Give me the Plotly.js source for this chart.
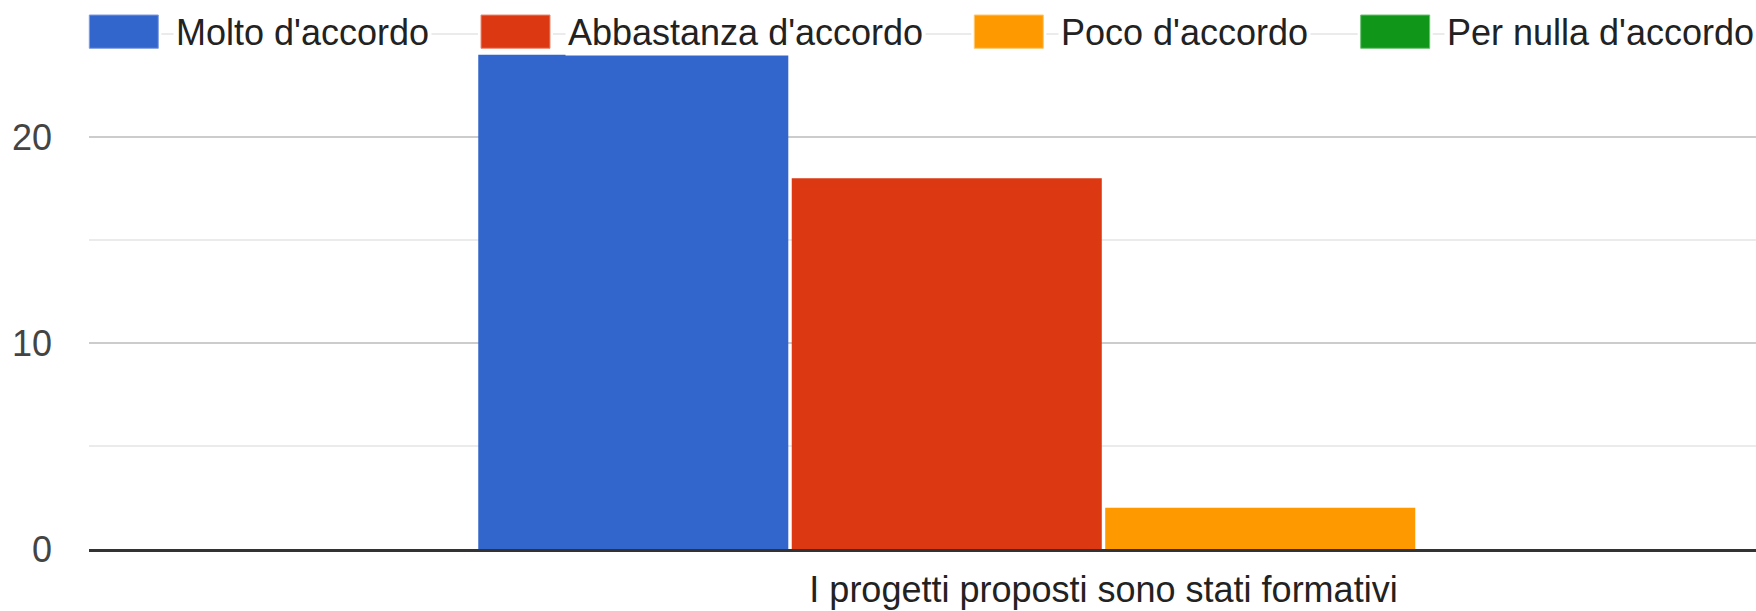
<!DOCTYPE html>
<html>
<head>
<meta charset="utf-8">
<script src="https://cdn.plot.ly/plotly-3.0.1.min.js"></script>
<style>
  html, body { margin: 0; padding: 0; background: #ffffff; }
  #chart { width: 1756px; height: 611px; }
</style>
</head>
<body>
<div id="chart"></div>
<script>
// ---- Data ----
const categories = ['I progetti proposti sono stati formativi'];
const seriesNames = ["Molto d'accordo", "Abbastanza d'accordo", "Poco d'accordo", "Per nulla d'accordo"];
const moltoValues = [24];
const abbastanzaValues = [18];
const pocoValues = [2];
const perNullaValues = [0];
const yTickValues = [0, 10, 20];
const yTickLabels = ['0', '10', '20'];

// ---- Style ----
const seriesColors = ['#3366cc', '#dc3912', '#ff9900', '#109618'];
const seriesEdge = ['#7f9de0', '#ec8a72', '#ffc76b', '#6cc270'];
const FONT = '"Liberation Sans", Arial, sans-serif';
const FS = 36;
const W = 1756, H = 611;
const M = { l: 89, r: 0, t: 33, b: 62 };
const plotW = W - M.l - M.r, plotH = H - M.t - M.b;
const legendSwatchX = [89.3, 481, 974.3, 1360.7];
const swatchW = 69, swatchTop = 15, swatchBottom = 48.3, textOffset = 86.7, legendMidY = 32;

const px2x = p => (p - M.l) / plotW;
const px2y = p => (H - M.b - p) / plotH;

const allValues = [moltoValues, abbastanzaValues, pocoValues, perNullaValues];
const traces = seriesNames.map((name, i) => ({
  type: 'bar',
  name: name,
  x: categories,
  y: allValues[i],
  marker: { color: seriesColors[i], line: { width: 0 } },
  hoverinfo: 'x+y+name'
}));

const shapes = [];
const annotations = [];
seriesNames.forEach((name, i) => {
  const x0 = legendSwatchX[i];
  // white halo behind swatch (breaks the top gridline)
  shapes.push({
    type: 'rect', xref: 'paper', yref: 'paper', layer: 'above',
    x0: px2x(x0 - 3), x1: px2x(x0 + swatchW + 3),
    y0: px2y(swatchBottom + 3), y1: px2y(swatchTop - 3),
    fillcolor: '#ffffff', line: { width: 0 }
  });
  shapes.push({
    type: 'rect', xref: 'paper', yref: 'paper', layer: 'above',
    x0: px2x(x0), x1: px2x(x0 + swatchW),
    y0: px2y(swatchBottom), y1: px2y(swatchTop),
    fillcolor: seriesColors[i], line: { color: seriesEdge[i], width: 1 }
  });
  annotations.push({
    xref: 'paper', yref: 'paper',
    x: px2x(x0 + textOffset - 3), y: px2y(legendMidY),
    xanchor: 'left', yanchor: 'middle',
    text: name, showarrow: false,
    bgcolor: '#ffffff', borderpad: 2,
    font: { family: FONT, size: FS, color: '#222222' }
  });
});

const unitPx = 2029;
const xMin = -0.5;
const xMax = xMin + plotW / unitPx;

const layout = {
  width: W, height: H,
  margin: M,
  paper_bgcolor: '#ffffff',
  plot_bgcolor: '#ffffff',
  showlegend: false,
  barmode: 'group',
  bargap: 0.382,
  bargroupgap: 0.011,
  font: { family: FONT, size: FS, color: '#222222' },
  xaxis: {
    type: 'category',
    range: [xMin, xMax],
    showgrid: false,
    zeroline: false,
    showline: true,
    linecolor: '#333333',
    linewidth: 3,
    ticks: '',
    ticklabelstandoff: 7,
    tickfont: { family: FONT, size: FS, color: '#222222' },
    fixedrange: true
  },
  yaxis: {
    range: [0, 25.05],
    tickmode: 'array',
    tickvals: yTickValues,
    ticktext: yTickLabels,
    showgrid: true,
    gridcolor: '#cccccc',
    gridwidth: 2,
    minor: { dtick: 5, showgrid: true, gridcolor: '#ebebeb', gridwidth: 2, ticks: '' },
    zeroline: false,
    showline: false,
    ticks: '',
    ticklabelstandoff: 36,
    tickfont: { family: FONT, size: FS, color: '#444444' },
    fixedrange: true
  },
  shapes: shapes,
  annotations: annotations
};

Plotly.newPlot('chart', traces, layout, { displayModeBar: false, staticPlot: true });
</script>
</body>
</html>
